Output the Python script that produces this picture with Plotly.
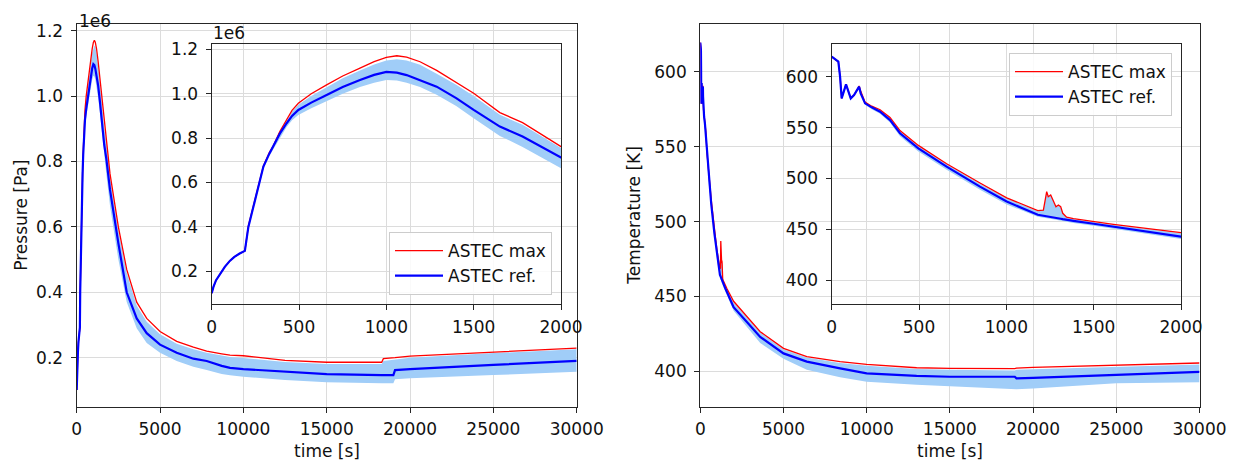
import plotly.graph_objects as go

# ---------------- data ----------------
# Pressure (values in units of 1e6 Pa)
p_time = [0, 10, 25, 50, 75, 105, 130, 160, 190, 210, 235, 258, 296, 330, 353, 390,
          429, 460, 496, 570, 658, 750, 849, 930, 1000, 1060, 1116, 1193, 1288, 1400,
          1500, 1650, 1780, 2000, 2500, 3000, 3600, 4200, 5000, 6000, 7000, 7800,
          8700, 9200, 10000, 12500, 15000, 18300, 18400, 19000, 19100, 20000, 25000,
          30000]
p_ref = [0.101, 0.13, 0.16, 0.19, 0.22, 0.248, 0.265, 0.28, 0.292, 0.40, 0.48, 0.551,
         0.672, 0.73, 0.762, 0.82, 0.867, 0.90, 0.927, 0.96, 0.994, 1.03, 1.062, 1.085,
         1.098, 1.095, 1.084, 1.062, 1.032, 0.98, 0.927, 0.852, 0.807, 0.713, 0.55,
         0.40, 0.32, 0.275, 0.24, 0.215, 0.197, 0.19, 0.175, 0.169, 0.165, 0.157,
         0.150, 0.147, 0.147, 0.147, 0.162, 0.165, 0.178, 0.19]
p_max = [0.101, 0.13, 0.16, 0.19, 0.22, 0.248, 0.265, 0.28, 0.292, 0.405, 0.485,
         0.556, 0.675, 0.735, 0.765, 0.83, 0.88, 0.925, 0.957, 1.0, 1.04, 1.08,
         1.115, 1.145, 1.164, 1.171, 1.165, 1.144, 1.105, 1.05, 1.002, 0.915, 0.87,
         0.762, 0.60, 0.47, 0.37, 0.32, 0.28, 0.25, 0.232, 0.22, 0.212, 0.208, 0.206,
         0.192, 0.186, 0.186, 0.197, 0.199, 0.200, 0.205, 0.218, 0.229]
p_band_lo = [0.10, 0.128, 0.158, 0.188, 0.218, 0.246, 0.263, 0.278, 0.29, 0.39,
             0.47, 0.54, 0.66, 0.72, 0.75, 0.80, 0.85, 0.88, 0.904, 0.935, 0.965,
             1.0, 1.03, 1.05, 1.062, 1.06, 1.05, 1.03, 0.995, 0.945, 0.89, 0.81, 0.76,
             0.664, 0.50, 0.37, 0.29, 0.245, 0.215, 0.19, 0.172, 0.162, 0.15, 0.146,
             0.142, 0.132, 0.125, 0.122, 0.122, 0.122, 0.134, 0.137, 0.147, 0.157]
p_band_hi = [0.101, 0.13, 0.16, 0.19, 0.22, 0.248, 0.265, 0.28, 0.292, 0.405, 0.485,
             0.556, 0.675, 0.735, 0.765, 0.828, 0.875, 0.92, 0.95, 0.99, 1.03, 1.07,
             1.105, 1.132, 1.15, 1.155, 1.15, 1.13, 1.09, 1.04, 0.99, 0.905, 0.86,
             0.755, 0.59, 0.46, 0.36, 0.31, 0.272, 0.243, 0.226, 0.215, 0.206, 0.202,
             0.199, 0.187, 0.181, 0.181, 0.19, 0.193, 0.195, 0.2, 0.214, 0.226]

# Temperature (K)
t_time = [0, 38, 48, 57, 82, 109, 128, 157, 166, 191, 229, 277, 334, 391, 496, 658,
          849, 1002, 1180, 1212, 1231, 1240, 1254, 1269, 1284, 1298, 1311, 1323,
          1345, 1384, 1500, 1613, 2000, 2800, 3600, 5000, 6400, 8400, 10000, 13000,
          15000, 18900, 19000, 20000, 25000, 30000]
t_ref = [619.6, 614.7, 600, 578.7, 592.5, 578.7, 582, 590.2, 583.6, 573.8, 569.9,
         565.6, 557.4, 544.4, 529.6, 511.6, 492, 477.3, 464.4, 463.6, 463.0, 462.7,
         462.3, 461.8, 461.3, 460.8, 460.4, 460.0, 459.3, 458.3, 455.5, 452.7, 442.9,
         433, 423, 412, 406.5, 402, 398.7, 397, 396.4, 396.4, 395.3, 395.6, 397.8,
         399.7]
t_max = [619.6, 614.7, 600, 578.7, 592.5, 578.7, 582, 590.8, 586, 575, 571, 567.5,
         560, 547, 532.5, 514.5, 495.5, 481, 468.5, 469, 487, 482, 483.8, 477.3,
         472.3, 474, 472.3, 465.8, 461.9, 460.5, 457.6, 455, 446.8, 436.5, 426.5,
         415.4, 409.8, 406.5, 404.7, 402.4, 402, 401.8, 402.2, 402.6, 404.2, 405.6]
t_band_lo = [619, 614, 599, 578, 591.5, 578, 581, 589, 582.5, 572.5, 568, 563.5, 555,
             541.5, 526.5, 508.5, 489, 474.5, 462.5, 461.8, 461.2, 460.9, 460.5, 460,
             459.5, 459, 458.6, 458.2, 457.5, 456.3, 453.5, 450.5, 440.5, 430, 419,
             408.5, 401, 396, 393.1, 391, 390, 388.5, 388, 388.6, 392, 392.8]
t_band_hi = [619.6, 614.7, 600, 578.7, 592.5, 578.7, 582, 590.5, 585.5, 574.4, 570.4,
             566.9, 559.4, 546.4, 531.9, 513.9, 494.9, 480.4, 467.9, 468.8, 486.5,
             481.5, 483.3, 476.8, 471.8, 473.5, 471.8, 465.3, 461.3, 459.9, 457,
             454.4, 446.2, 435.9, 425.9, 414.8, 409.2, 405.6, 403.8, 401.5, 401,
             400.6, 401, 401.4, 403.2, 404.6]

# axis ticks
main_xticks = [0, 5000, 10000, 15000, 20000, 25000, 30000]
inset_xticks = [0, 500, 1000, 1500, 2000]
p_ticks = [0.2, 0.4, 0.6, 0.8, 1.0, 1.2]
t_ticks = [400, 450, 500, 550, 600]

# ---------------- styling ----------------
OFF = 8                      # page body margin of the browser
W, H = 1240 - 2 * OFF, 468 - 2 * OFF
RED = "#ff0000"
BLUE = "#0000ff"
BAND = "#a0cdf8"
GRID = "#dcdcdc"
AX = "#262626"
FONT = dict(family="DejaVu Sans", size=17, color="#111111")


def px_x(v):
    return (v - OFF) / W


def px_y(v):
    return 1 - (v - OFF) / H


fig = go.Figure()


def add_set(t, lo, hi, mx, ref, xa, ya, legend, show):
    fig.add_trace(go.Scatter(x=t, y=lo, mode="lines", line=dict(width=0, color=BAND),
                             showlegend=False, xaxis=xa, yaxis=ya, hoverinfo="skip"))
    fig.add_trace(go.Scatter(x=t, y=hi, mode="lines", line=dict(width=0, color=BAND),
                             fill="tonexty", fillcolor=BAND, showlegend=False,
                             xaxis=xa, yaxis=ya, hoverinfo="skip"))
    fig.add_trace(go.Scatter(x=t, y=mx, mode="lines", name="ASTEC max",
                             line=dict(color=RED, width=1.3), showlegend=show,
                             legend=legend, xaxis=xa, yaxis=ya))
    fig.add_trace(go.Scatter(x=t, y=ref, mode="lines", name="ASTEC ref.",
                             line=dict(color=BLUE, width=2.2), showlegend=show,
                             legend=legend, xaxis=xa, yaxis=ya))


add_set(p_time, p_band_lo, p_band_hi, p_max, p_ref, "x", "y", "legend", False)
add_set(p_time, p_band_lo, p_band_hi, p_max, p_ref, "x2", "y2", "legend", True)
add_set(t_time, t_band_lo, t_band_hi, t_max, t_ref, "x3", "y3", "legend2", False)
add_set(t_time, t_band_lo, t_band_hi, t_max, t_ref, "x4", "y4", "legend2", True)

common = dict(showline=True, mirror=True, linecolor=AX, linewidth=1.3,
              ticks="outside", ticklen=5, tickwidth=1.3, tickcolor=AX,
              showgrid=True, gridcolor=GRID, gridwidth=1.3, zeroline=False,
              tickfont=FONT, automargin=False)

main_ydom = [px_y(407.3), px_y(24)]
inset_ydom = [px_y(304.3), px_y(44)]

legend_style = dict(bgcolor="rgba(255,255,255,0.85)", bordercolor="#cccccc",
                    borderwidth=1, font=FONT, traceorder="normal", itemwidth=48)

fig.update_layout(
    width=W, height=H,
    margin=dict(l=0, r=0, t=0, b=0),
    paper_bgcolor="white",
    plot_bgcolor="rgba(0,0,0,0)",
    font=FONT,
    xaxis=dict(domain=[px_x(76.7), px_x(576.7)], range=[0, 30000],
               tickvals=main_xticks, tickformat="d", anchor="y",
               ticklabelstandoff=1, **common),
    yaxis=dict(domain=main_ydom, range=[0.0483, 1.2205], tickvals=p_ticks,
               tickformat=".1f", anchor="x", ticklabelstandoff=4, **common),
    xaxis2=dict(domain=[px_x(211.7), px_x(561)], range=[0, 2000],
                tickvals=inset_xticks, tickformat="d", anchor="y2",
                ticklabelstandoff=2, **common),
    yaxis2=dict(domain=inset_ydom, range=[0.0514, 1.224], tickvals=p_ticks,
                tickformat=".1f", anchor="x2", ticklabelstandoff=4, **common),
    xaxis3=dict(domain=[px_x(700.3), px_x(1199.5)], range=[0, 30000],
                tickvals=main_xticks, tickformat="d", anchor="y3",
                ticklabelstandoff=1, **common),
    yaxis3=dict(domain=main_ydom, range=[376, 632], tickvals=t_ticks,
                tickformat="d", anchor="x3", ticklabelstandoff=4, **common),
    xaxis4=dict(domain=[px_x(831.7), px_x(1181)], range=[0, 2000],
                tickvals=inset_xticks, tickformat="d", anchor="y4",
                ticklabelstandoff=2, **common),
    yaxis4=dict(domain=inset_ydom, range=[376.4, 632.1], tickvals=t_ticks,
                tickformat="d", anchor="x4", ticklabelstandoff=4, **common),
    legend=dict(x=px_x(552), y=px_y(295), xanchor="right", yanchor="bottom",
                **legend_style),
    legend2=dict(x=px_x(1172), y=px_y(53), xanchor="right", yanchor="top",
                 **legend_style),
    showlegend=True,
)

annots = [
    dict(text="1e6", x=px_x(78), y=px_y(10), xanchor="left", yanchor="top"),
    dict(text="1e6", x=px_x(212), y=px_y(33), xanchor="left", yanchor="middle"),
    dict(text="Pressure [Pa]", x=px_x(10), y=px_y(215.7), textangle=-90,
         xanchor="left", yanchor="middle"),
    dict(text="Temperature [K]", x=px_x(634), y=px_y(215.7), textangle=-90,
         xanchor="center", yanchor="middle"),
    dict(text="time [s]", x=px_x(326.7), y=px_y(450.5), xanchor="center", yanchor="middle"),
    dict(text="time [s]", x=px_x(950), y=px_y(450.5), xanchor="center", yanchor="middle"),
]
for a in annots:
    fig.add_annotation(xref="paper", yref="paper", showarrow=False, font=FONT,
                       borderpad=0, **a)

fig.write_html("out.html")
